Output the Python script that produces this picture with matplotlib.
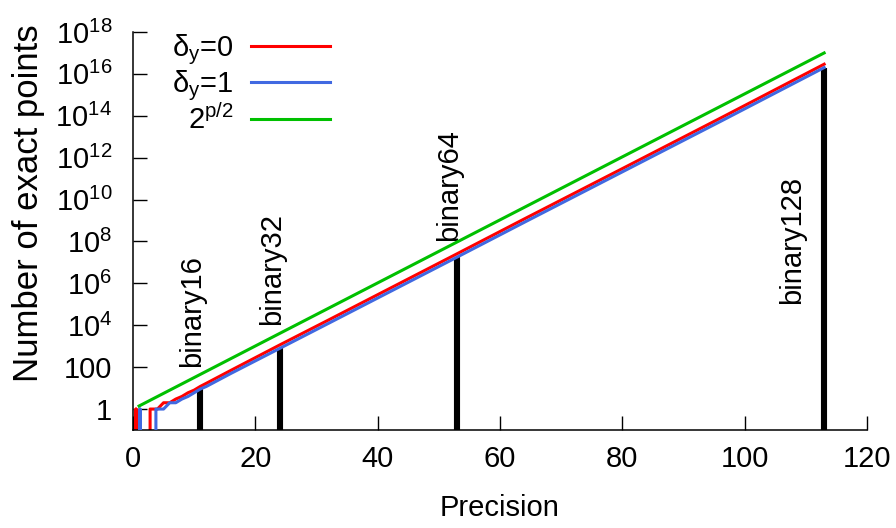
import matplotlib
matplotlib.use("Agg")
import matplotlib.pyplot as plt
from matplotlib.ticker import FixedLocator, NullLocator

plt.rcParams["font.family"] = ["Liberation Sans", "DejaVu Sans"]
plt.rcParams["mathtext.fontset"] = "custom"
plt.rcParams["mathtext.rm"] = "Liberation Sans"
plt.rcParams["mathtext.it"] = "Liberation Sans:italic"

# values (0 = below the axis)
red_p = [0.5, 0.5, 0.5, 2.8, 2.8, 4, 5, 6, 7, 8, 9, 10, 11, 12, 16, 24, 32, 53, 64, 80, 96, 113]
red_y = [0, 1, 0, 0, 1, 1, 2, 2, 3, 4, 6, 8, 12, 17, 70, 1150, 18000, 2.6e7, 1.2e9, 3.0e11, 7.6e13, 2.9e16]

blue_p = [1.15, 1.15, 1.15, 3.75, 3.75, 5, 6, 7, 8, 9, 10, 11, 12, 16, 24, 32, 53, 64, 80, 96, 113]
blue_y = [0, 1, 0, 0, 1, 1, 2, 2, 3, 4, 6, 9, 12, 50, 790, 12500, 1.8e7, 8.3e8, 2.1e11, 5.3e13, 2.0e16]

green_p = [1, 24, 53, 113]
green_y = [1.4, 4100, 9.5e7, 1.0e17]

formats = ["binary16", "binary32", "binary64", "binary128"]
format_p = [11, 24, 53, 113]
format_y = [9, 790, 1.8e7, 2.0e16]
label_p = [11, 24, 53, 109]
label_y = [100, 1e4, 1e8, 1e5]

yticks = [1, 100, 1e4, 1e6, 1e8, 1e10, 1e12, 1e14, 1e16, 1e18]
ytick_labels = ["1", "100"] + [r"$\mathregular{10^{%d}}$" % e for e in range(4, 19, 2)]

fs = 21

fig = plt.figure(figsize=(8.96, 5.28), dpi=100)
ax = fig.add_axes([0.1484, 0.1856, 0.8192, 0.7538])
ax.set_yscale("log", nonpositive="clip")
ax.set_xlim(0, 120)
ax.set_ylim(0.1, 1e18)

ax.vlines(format_p, ax.get_ylim()[0], format_y, color="black", lw=4.4, zorder=1)
ax.plot(red_p, red_y, color="#ff0000", lw=2.2, label=r"$\mathregular{\delta_y}$=0", zorder=2)
ax.plot(blue_p, blue_y, color="#4169e1", lw=2.2, label=r"$\mathregular{\delta_y}$=1", zorder=3)
ax.plot(green_p, green_y, color="#00c000", lw=2.2, label=r"$\mathregular{2^{p/2}}$", zorder=4)

for name, x, y in zip(formats, label_p, label_y):
    ax.text(x, y, name, rotation=90, rotation_mode="anchor", ha="left", va="baseline", fontsize=fs)

ax.yaxis.set_major_locator(FixedLocator(yticks))
ax.yaxis.set_minor_locator(NullLocator())
ax.set_yticklabels(ytick_labels)
ax.set_xticks(range(0, 121, 20))

ax.spines["top"].set_visible(False)
ax.spines["right"].set_visible(False)
for s in ("left", "bottom"):
    ax.spines[s].set_linewidth(1.1)
ax.tick_params(axis="both", direction="in", length=10, width=1.0, labelsize=fs)
ax.tick_params(axis="x", pad=11)
ax.tick_params(axis="y", pad=15)

ax.set_xlabel("Precision", fontsize=fs)
ax.set_ylabel("Number of exact points", fontsize=25)
ax.xaxis.set_label_coords(0.5, -0.16)
ax.yaxis.set_label_coords(-0.12, 0.57)

ax.legend(loc="upper right", bbox_to_anchor=(0.268, 1.0), frameon=False, markerfirst=False,
          fontsize=fs, handlelength=2.7, handletextpad=0.6, labelspacing=0.05,
          borderaxespad=0, borderpad=0)

fig.savefig("out.png", dpi=100)
